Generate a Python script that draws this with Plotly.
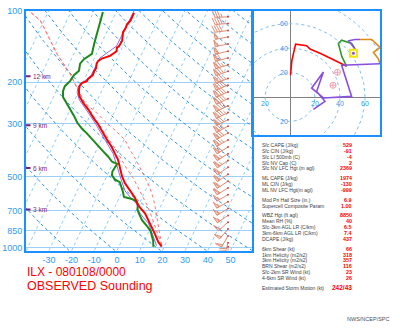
import numpy as np
import plotly.graph_objects as go

# ---------------- observed sounding ----------------
t_pres = [991, 945, 875, 819, 766, 717, 677, 646, 616, 565, 534, 499, 458, 425, 401, 375, 348, 319, 302, 282,
          261, 245, 238, 229, 218, 208, 202, 198, 194, 191, 187, 180, 175, 167, 163, 159, 157, 155, 151, 148,
          143, 141, 134, 123, 118, 114, 110, 102]
temp = [18.9, 16.3, 13.2, 10.4, 7.4, 4.6, 1.1, -1.2, -3.1, -7.6, -10.6, -13.3, -16.2, -18.5, -21.1, -24.0, -27.8,
        -31.8, -34.5, -38.2, -42.0, -45.6, -46.9, -48.8, -50.0, -50.8, -50.4, -48.6, -48.5, -48.0, -47.2, -47.4,
        -47.2, -47.9, -47.8, -46.7, -45.5, -43.6, -42.5, -41.7, -42.3, -41.7, -41.4, -42.8, -42.5, -42.7, -41.9, -42.0]

td_pres = [991, 936, 892, 851, 811, 766, 724, 690, 665, 640, 623, 611, 582, 556, 529, 515, 495, 477, 458, 443,
           433, 413, 393, 371, 351, 329, 314, 297, 277, 259, 242, 231, 218, 208, 198, 187, 179, 167, 160, 152,
           138, 123, 110, 101]
dwpt = [15.2, 13.9, 12.3, 10.7, 8.1, 4.7, 2.3, 0.4, -0.1, -1.4, -4.2, -8.1, -9.6, -11.1, -13.0, -15.8, -17.9,
        -18.5, -18.2, -18.0, -20.8, -23.4, -26.6, -30.1, -33.6, -37.7, -40.9, -44.1, -47.1, -50.3, -53.9, -55.8,
        -57.0, -57.2, -56.0, -55.5, -54.2, -55.2, -54.4, -52.0, -53.1, -54.2, -55.2, -55.9]

wb_pres = [981, 945, 859, 788, 745, 697, 652, 623, 576, 524, 458, 401, 348, 302, 261, 238, 222, 210, 187, 158,
           141, 116, 100]
wetbulb = [16.4, 14.9, 11.4, 8.1, 4.6, 0.9, -1.1, -4.3, -8.9, -12.4, -17.1, -21.9, -28.7, -35.5, -43.0, -47.9,
           -50.4, -51.2, -47.9, -47.6, -42.8, -42.5, -42.4]

# lifted parcel traces
p1_pres = [972, 884, 819, 745, 677, 616, 560, 509, 463, 417, 386, 355, 325, 299, 274, 245, 216, 184, 152, 110, 100]
parcel1 = [18.4, 14.9, 11.8, 8.3, 4.8, 0.6, -3.7, -7.9, -12.9, -17.6, -21.4, -25.9, -30.4, -34.9, -39.3, -44.9,
           -50.6, -57.6, -67.4, -81.6, -88.7]
p2_pres = [972, 884, 803, 731, 664, 610, 560, 515, 467, 425, 386, 351, 319, 293, 266, 245, 216, 184, 152, 110, 100]
parcel2 = [18.4, 15.7, 13.0, 10.3, 7.3, 4.6, 1.5, -2.1, -6.4, -10.6, -15.3, -19.5, -26.0, -32.2, -38.6, -44.9,
           -50.6, -57.6, -67.4, -81.6, -88.7]

# winds (deg, kt)
wind_pres = [991, 954, 893, 835, 781, 731, 684, 640, 598, 560, 524, 490, 458, 429, 401, 376, 351, 328, 307, 288,
             269, 252, 235, 220, 206, 193, 180, 169, 158, 148, 138, 129, 121, 113, 106]
wind_dir = [180, 195, 210, 220, 228, 235, 238, 240, 240, 238, 236, 235, 235, 236, 237, 238, 240, 240, 241, 242,
            243, 244, 245, 246, 247, 248, 250, 252, 254, 256, 258, 260, 262, 265, 268]
wind_spd = [18, 40, 50, 52, 52, 53, 55, 56, 57, 58, 60, 61, 62, 64, 66, 70, 74, 78, 80, 82,
            85, 88, 90, 90, 88, 85, 80, 75, 70, 62, 55, 48, 42, 38, 35]

# height markers (km AGL at pressure)
hgt_km = [3, 6, 9, 12]
hgt_pres = [690, 461, 304, 189]

# hodograph (u, v in kt) by layer
hodo_03_u = [0.4, 1.5, 4.5, 13.3, 16.0, 25.3, 36.0, 45.3]
hodo_03_v = [17.9, 30.0, 43.2, 41.9, 39.2, 35.2, 29.9, 25.1]
hodo_36_u = [45.3, 41.5, 38.7, 41.3, 49.3, 52.0]
hodo_36_v = [25.1, 33.0, 43.7, 46.4, 43.7, 39.2]
hodo_69_u = [52.0, 47.0, 52.0, 56.0]
hodo_69_v = [39.2, 46.0, 47.0, 47.0]
hodo_912_u = [56.0, 65.3, 72.0, 66.7, 70.7, 72.0]
hodo_912_v = [47.0, 47.0, 40.5, 36.5, 31.2, 27.2]
hodo_top_u = [72.0, 41.3, 49.3, 26.7, 17.3, 26.7, 21.3, 28.0, 18.7]
hodo_top_v = [27.2, 25.9, 0.5, -0.8, 7.2, 20.5, 4.5, -3.5, -10.1]
mean_wind_uv = (50.7, 35.8)
storm_dir, storm_spd = 242, 43
alt_motion_uv = (34.4, 9.6)
ring_kt = [20, 40, 60, 80]

# parameter table
tbl_labels = ["Sfc CAPE (J/kg)", "Sfc CIN (J/kg)", "Sfc LI 500mb (C)", "Sfc NV Cap (C)", "Sfc NV LFC Hgt (m agl)",
              "ML CAPE (J/kg)", "ML CIN (J/kg)", "ML NV LFC Hgt(m agl)",
              "Mod Pri Hail Size (in.)", "Supercell Composite Param",
              "WBZ Hgt (ft agl)", "Mean RH (%)", "Sfc-3km AGL LR (C/km)", "3km-6km AGL LR (C/km)", "DCAPE (J/kg)",
              "6km Shear (kt)", "1km Helicity (m2/s2)", "3km Helicity (m2/s2)", "BRN Shear (m2/s2)",
              "Sfc-2km SR Wind (kt)", "4-6km SR Wind (kt)",
              "Estimated Storm Motion (kt)"]
tbl_values = ["529", "-91", "-4", "2", "2369", "1974", "-130", "-999", "6.9", "1.00",
              "8850", "40", "6.5", "7.4", "437", "66", "318", "357", "116", "23", "26",
              f"{storm_dir}/{storm_spd}"]
tbl_groups = [5, 3, 2, 5, 6, 1]

p_ticks = [100, 200, 300, 500, 700, 850, 1000]
t_ticks = [-30, -20, -10, 0, 10, 20, 30, 40, 50]

# ---------------- skew-T geometry ----------------
W, H = 400, 329
P_BOT, P_TOP = 1030.0, 100.0
XMIN, XMAX = -40.1, 59.5
SKEW = 21.4                     # deg C of isotherm shift per e-fold of pressure
PX_L, PX_R, PX_T, PX_B = 26, 252, 6, 251
PX_PER_C = (PX_R - PX_L) / (XMAX - XMIN)
PX_PER_LNP = (PX_B - PX_T) / np.log(P_BOT / P_TOP)

FRAME = "#1E8FFF"
LBL = "#2E9CF2"
FONT = "Liberation Sans"


def skx(t, p):
    return np.asarray(t, float) + SKEW * np.log(P_BOT / np.asarray(p, float))


def joined(lines):
    xs, ys = [], []
    for x, y in lines:
        xs += list(x) + [None]
        ys += list(y) + [None]
    return xs, ys


fig = go.Figure()

# isotherms
pp = np.geomspace(P_BOT, P_TOP, 40)
iso = [(skx(np.full_like(pp, t), pp), pp) for t in range(-130, 70, 10)]
x, y = joined(iso)
fig.add_trace(go.Scatter(x=x, y=y, mode="lines", line=dict(color="#8ACCF7", width=1, dash="dot"),
                         hoverinfo="skip"))

# dry adiabats
dry = []
for th in range(230, 560, 20):
    t = th * (pp / 1000.0) ** 0.2857 - 273.15
    dry.append((skx(t, pp), pp))
x, y = joined(dry)
fig.add_trace(go.Scatter(x=x, y=y, mode="lines", line=dict(color="#2A8FE8", width=1, dash="dot"),
                         hoverinfo="skip"))

# profiles
fig.add_trace(go.Scatter(x=skx(parcel2, p2_pres), y=p2_pres, mode="lines",
                         line=dict(color="#FF7070", width=1, dash="dot"), hoverinfo="skip"))
fig.add_trace(go.Scatter(x=skx(parcel1, p1_pres), y=p1_pres, mode="lines",
                         line=dict(color="#FF7070", width=1, dash="dot"), hoverinfo="skip"))
fig.add_trace(go.Scatter(x=skx(wetbulb, wb_pres), y=wb_pres, mode="lines",
                         line=dict(color="#8C6BE8", width=1), hoverinfo="skip"))
fig.add_trace(go.Scatter(x=skx(dwpt, td_pres), y=td_pres, mode="lines",
                         line=dict(color="#1A8A1A", width=2), hoverinfo="skip"))
fig.add_trace(go.Scatter(x=skx(temp, t_pres), y=t_pres, mode="lines",
                         line=dict(color="#FF0000", width=2), hoverinfo="skip"))

# height markers
mk = [([XMIN, XMIN + 2.0], [p, p]) for p in hgt_pres]
x, y = joined(mk)
fig.add_trace(go.Scatter(x=x, y=y, mode="lines", line=dict(color="#7A1F7A", width=2), hoverinfo="skip"))
for km, p in zip(hgt_km, hgt_pres):
    fig.add_annotation(x=XMIN + 2.3, y=np.log10(p), text=f"{km} km", showarrow=False, xanchor="left",
                       yanchor="middle", font=dict(size=6.5, color="#7A1F7A", family=FONT))

# wind barbs, built in pixel offsets around each station and mapped back through the axis scales
BARB_X = XMIN + (228 - PX_L) / PX_PER_C
STAFF, FEATH, STEP = 13.0, 7.0, 2.4


def px2data(p0, dx, dy):
    return BARB_X + dx / PX_PER_C, p0 * np.exp(dy / PX_PER_LNP)


bx, by, fxs, fys = [], [], [], []
for p0, d, s in zip(wind_pres, wind_dir, wind_spd):
    r = np.deg2rad(d)
    ux, uy = np.sin(r), -np.cos(r)
    fx, fy = np.cos(r), np.sin(r)
    spd = int(5 * round(s / 5.0))
    n50, rem = divmod(spd, 50)
    n10, rem = divmod(rem, 10)
    n5 = rem // 5
    segs = [[(0, 0), (STAFF * ux, STAFF * uy)]]
    flags = []
    pos = STAFF
    for _ in range(n50):
        a = (pos * ux, pos * uy)
        b = (pos * ux + FEATH * fx, pos * uy + FEATH * fy)
        c = ((pos - 2.8) * ux, (pos - 2.8) * uy)
        flags.append([a, b, c, a])
        pos -= 3.6
    for _ in range(n10):
        segs.append([(pos * ux, pos * uy),
                     (pos * ux + FEATH * (fx + 0.35 * ux), pos * uy + FEATH * (fy + 0.35 * uy))])
        pos -= STEP
    for _ in range(n5):
        segs.append([(pos * ux, pos * uy),
                     (pos * ux + 0.5 * FEATH * (fx + 0.35 * ux), pos * uy + 0.5 * FEATH * (fy + 0.35 * uy))])
    for sg in segs:
        for dx, dy in sg:
            xx, yy = px2data(p0, dx, dy)
            bx.append(xx)
            by.append(yy)
        bx.append(None)
        by.append(None)
    for fg in flags:
        for dx, dy in fg:
            xx, yy = px2data(p0, dx, dy)
            fxs.append(xx)
            fys.append(yy)
        fxs.append(None)
        fys.append(None)

fig.add_trace(go.Scatter(x=fxs, y=fys, mode="lines", fill="toself", fillcolor="rgba(233,150,122,0.35)",
                         line=dict(color="#E08C74", width=1), hoverinfo="skip"))
fig.add_trace(go.Scatter(x=bx, y=by, mode="lines", line=dict(color="#E08C74", width=1), hoverinfo="skip"))
fig.add_trace(go.Scatter(x=[BARB_X] * len(wind_pres), y=wind_pres, mode="markers",
                         marker=dict(color="#D04848", size=2), hoverinfo="skip"))

# ---------------- hodograph ----------------
th = np.linspace(0, 2 * np.pi, 120)
rings = [(r * np.cos(th), r * np.sin(th)) for r in ring_kt]
x, y = joined(rings)
fig.add_trace(go.Scatter(x=x, y=y, xaxis="x2", yaxis="y2", mode="lines",
                         line=dict(color="#7DBEF0", width=1, dash="dot"), hoverinfo="skip"))
for u, v, c in [(hodo_03_u, hodo_03_v, "#FF0000"), (hodo_36_u, hodo_36_v, "#2E9A2E"),
                (hodo_69_u, hodo_69_v, "#8A4FE0"), (hodo_912_u, hodo_912_v, "#E08A10"),
                (hodo_top_u, hodo_top_v, "#8A4FE0")]:
    fig.add_trace(go.Scatter(x=u, y=v, xaxis="x2", yaxis="y2", mode="lines",
                             line=dict(color=c, width=1.6), hoverinfo="skip"))
sm_u = -storm_spd * np.sin(np.deg2rad(storm_dir))
sm_v = -storm_spd * np.cos(np.deg2rad(storm_dir))
fig.add_trace(go.Scatter(x=[sm_u, alt_motion_uv[0]], y=[sm_v, alt_motion_uv[1]], xaxis="x2", yaxis="y2",
                         mode="markers", marker=dict(symbol="circle-cross-open", size=6, color="#F0A0B0",
                                                     line=dict(width=1)), hoverinfo="skip"))
fig.add_trace(go.Scatter(x=[mean_wind_uv[0]], y=[mean_wind_uv[1]], xaxis="x2", yaxis="y2", mode="markers",
                         marker=dict(symbol="square-open", size=7, color="#F5E600", line=dict(width=2)),
                         hoverinfo="skip"))
fig.add_trace(go.Scatter(x=[mean_wind_uv[0]], y=[mean_wind_uv[1]], xaxis="x2", yaxis="y2", mode="markers",
                         marker=dict(symbol="circle", size=3, color="#8A4FE0"), hoverinfo="skip"))
ring_lbl = dict(size=7, color=LBL, family=FONT)
for r in ring_kt[:3]:
    fig.add_annotation(x=r, y=-5, xref="x2", yref="y2", text=str(r), showarrow=False, font=ring_lbl)
    fig.add_annotation(x=-5, y=r, xref="x2", yref="y2", text=str(r), showarrow=False, font=ring_lbl)
fig.add_annotation(x=-20, y=-5, xref="x2", yref="y2", text="20", showarrow=False, font=ring_lbl)
fig.add_annotation(x=-5, y=-20, xref="x2", yref="y2", text="20", showarrow=False, font=ring_lbl)

# ---------------- text ----------------
row_y = []
y0 = 143.0
for g in tbl_groups:
    for _ in range(g):
        row_y.append(y0)
        y0 += 6.0
    y0 += 4.0
last = len(tbl_labels) - 1
for i, (lab, val, yy) in enumerate(zip(tbl_labels, tbl_values, row_y)):
    fig.add_annotation(x=261 / W, y=1 - yy / H, xref="paper", yref="paper", text=lab, showarrow=False,
                       xanchor="left", yanchor="middle", borderpad=0,
                       font=dict(size=5.0, color="#404040", family=FONT))
    fig.add_annotation(x=353 / W, y=1 - yy / H, xref="paper", yref="paper", text=f"<b>{val}</b>",
                       showarrow=False, xanchor="right", yanchor="middle", borderpad=0,
                       font=dict(size=6.5 if i == last else 5.4, color="#FF0000", family=FONT))

# two-line title in one text block; the base size sets the line pitch
fig.add_annotation(x=26 / W, y=1 - 280 / H, xref="paper", yref="paper",
                   text='<span style="font-size:12px">ILX - 080108/0000</span><br>'
                        '<span style="font-size:12.5px">OBSERVED Sounding</span>',
                   showarrow=False, xanchor="left", yanchor="middle", align="left", borderpad=0,
                   font=dict(size=10.8, color="#FF0000", family=FONT))
fig.add_annotation(x=392 / W, y=1 - 321 / H, xref="paper", yref="paper", text="NWS/NCEP/SPC",
                   showarrow=False, xanchor="right", yanchor="middle",
                   font=dict(size=5.5, color="#505050", family=FONT))

fig.update_layout(
    width=W, height=H, margin=dict(l=0, r=0, t=0, b=0),
    paper_bgcolor="white", plot_bgcolor="white", showlegend=False,
    xaxis=dict(domain=[PX_L / W, PX_R / W], range=[XMIN, XMAX], showgrid=False, zeroline=False,
               showline=True, mirror=True, linecolor=FRAME, linewidth=2,
               tickvals=t_ticks, ticktext=[str(t) for t in t_ticks], ticks="", ticklabelstandoff=0,
               tickfont=dict(size=9, color=LBL, family=FONT), fixedrange=True),
    yaxis=dict(domain=[1 - PX_B / H, 1 - PX_T / H], type="log",
               range=[np.log10(P_BOT), np.log10(P_TOP)], showgrid=True, gridcolor="#9DD0F7", gridwidth=1,
               zeroline=False, showline=True, mirror=True, linecolor=FRAME, linewidth=2,
               tickvals=p_ticks, ticktext=[str(p) for p in p_ticks], ticks="",
               tickfont=dict(size=9, color=LBL, family=FONT), fixedrange=True),
    xaxis2=dict(domain=[253 / W, 380 / W], range=[-29.6, 72], anchor="y2", showgrid=False,
                zeroline=True, zerolinecolor="#808080", zerolinewidth=1, showticklabels=False,
                showline=True, mirror=True, linecolor=FRAME, linewidth=2, fixedrange=True),
    yaxis2=dict(domain=[1 - 133 / H, 1 - 6 / H], range=[-31.2, 70.4], anchor="x2", showgrid=False,
                zeroline=True, zerolinecolor="#808080", zerolinewidth=1, showticklabels=False,
                showline=True, mirror=True, linecolor=FRAME, linewidth=2, fixedrange=True),
)

fig.write_html("out.html")
